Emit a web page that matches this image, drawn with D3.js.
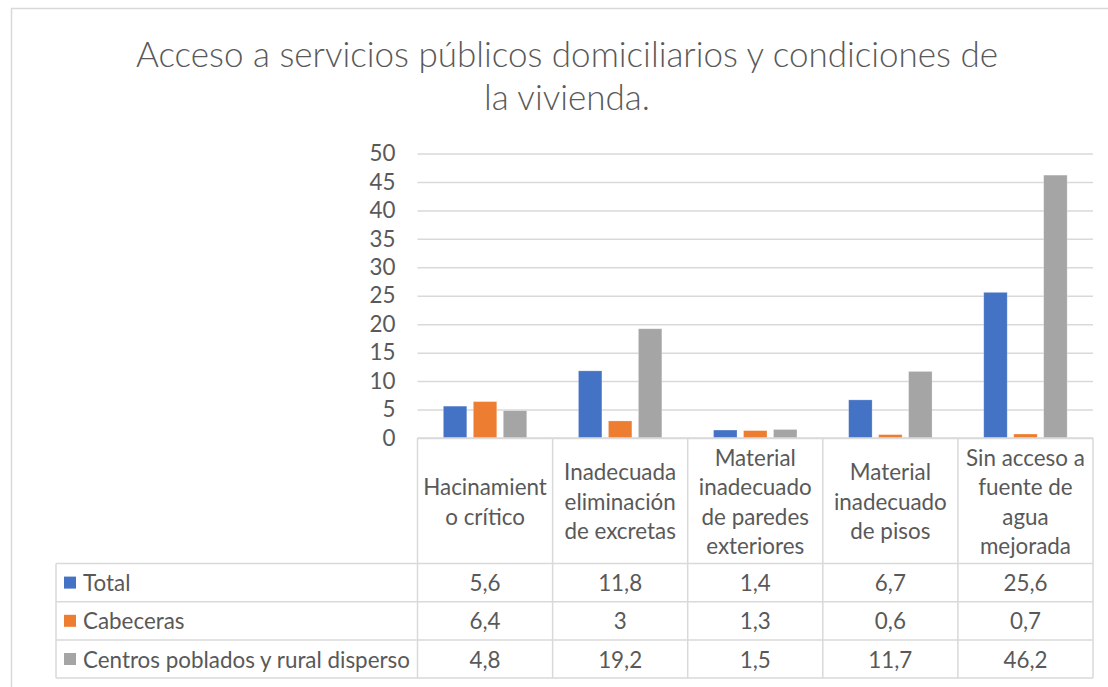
<!DOCTYPE html>
<html>
<head>
<meta charset="utf-8">
<script src="https://cdn.jsdelivr.net/npm/d3@7"></script>
<style>
  html, body { margin: 0; padding: 0; background: #fff; }
  svg { display: block; }
  text { font-family: Lato, "Open Sans", sans-serif; fill: #595959; }
</style>
</head>
<body>
<svg id="chart" width="1108" height="687"></svg>
<script>
const title = ["Acceso a servicios públicos domiciliarios y condiciones de", "la vivienda."];
const categories = ["Hacinamiento crítico", "Inadecuada eliminación de excretas", "Material inadecuado de paredes exteriores", "Material inadecuado de pisos", "Sin acceso a fuente de agua mejorada"];
const categoryLines = [
  ["Hacinamient", "o crítico"],
  ["Inadecuada", "eliminación", "de excretas"],
  ["Material", "inadecuado", "de paredes", "exteriores"],
  ["Material", "inadecuado", "de pisos"],
  ["Sin acceso a", "fuente de", "agua", "mejorada"]
];
const seriesNames = ["Total", "Cabeceras", "Centros poblados y rural disperso"];
const totalValues = [5.6, 11.8, 1.4, 6.7, 25.6];
const cabecerasValues = [6.4, 3, 1.3, 0.6, 0.7];
const centrosValues = [4.8, 19.2, 1.5, 11.7, 46.2];
const tableLabels = [
  ["5,6", "11,8", "1,4", "6,7", "25,6"],
  ["6,4", "3", "1,3", "0,6", "0,7"],
  ["4,8", "19,2", "1,5", "11,7", "46,2"]
];
const yTicks = [0, 5, 10, 15, 20, 25, 30, 35, 40, 45, 50];
const colors = ["#4472C4", "#ED7D31", "#A5A5A5"];

const seriesValues = [totalValues, cabecerasValues, centrosValues];
const data = categories.map((c, i) => ({ cat: c, values: seriesNames.map((s, j) => ({ series: s, value: seriesValues[j][i], color: colors[j] })) }));

const svg = d3.select("#chart");
const gridColor = "#D9D9D9";

// outer chart border
svg.append("path")
  .attr("d", "M11.5,700 L11.5,8.5 L1108,8.5")
  .attr("fill", "none").attr("stroke", gridColor).attr("stroke-width", 1.5);

// title
svg.append("text")
  .attr("x", 567).attr("y", 67)
  .attr("text-anchor", "middle")
  .style("font-size", "35px").style("font-weight", 300)
  .selectAll("tspan").data(title).join("tspan")
  .attr("x", 567).attr("dy", (d, i) => i === 0 ? 0 : 43)
  .text(d => d);

const plotLeft = 417.5, plotRight = 1093, plotTop = 153.5, plotBottom = 438;
const tableLeft = 56;
const fs = 22.4;

const x0 = d3.scaleBand().domain(categories).range([plotLeft, plotRight]).paddingInner(0).paddingOuter(0);
const x1 = d3.scaleBand().domain(seriesNames).range([0, x0.bandwidth()]).paddingInner(0.217).paddingOuter(0.862);
const y = d3.scaleLinear().domain([0, 50]).range([plotBottom, plotTop]);

// gridlines
const yAxis = d3.axisLeft(y).tickValues(yTicks).tickSize(-(plotRight - plotLeft)).tickPadding(22).tickFormat(d3.format("d"));
const ga = svg.append("g").attr("transform", `translate(${plotLeft},0)`).call(yAxis);
ga.select(".domain").remove();
ga.selectAll(".tick line").attr("stroke", gridColor).attr("stroke-width", 1.5);
ga.selectAll(".tick text").style("font-size", fs + "px").attr("fill", "#595959").style("font-family", "Lato, sans-serif");

// bars
const groups = svg.append("g").selectAll("g").data(data).join("g")
  .attr("transform", d => `translate(${x0(d.cat)},0)`);
groups.selectAll("rect").data(d => d.values).join("rect")
  .attr("x", d => x1(d.series))
  .attr("width", x1.bandwidth())
  .attr("y", d => y(d.value))
  .attr("height", d => y(0) - y(d.value))
  .attr("fill", d => d.color)
  .attr("stroke", "#ffffff").attr("stroke-opacity", 0.35).attr("stroke-width", 0.75);

// data table
const headerBottom = 563.5;
const rowH = 38.2;
const tableBottom = headerBottom + rowH * 3;
const tg = svg.append("g");
const line = (x1_, y1_, x2_, y2_) => tg.append("line").attr("x1", x1_).attr("y1", y1_).attr("x2", x2_).attr("y2", y2_)
  .attr("stroke", gridColor).attr("stroke-width", 1.5);

// horizontal lines
line(plotLeft, plotBottom, plotRight, plotBottom);
for (let r = 0; r <= 3; r++) line(tableLeft, headerBottom + r * rowH, plotRight, headerBottom + r * rowH);
// vertical lines
line(tableLeft, headerBottom, tableLeft, tableBottom);
categories.forEach(c => line(x0(c), plotBottom, x0(c), tableBottom));
line(plotRight, plotBottom, plotRight, tableBottom);

// header labels
const lh = 29.5;
const headerMid = (plotBottom + headerBottom) / 2;
categories.forEach((c, i) => {
  const lines = categoryLines[i];
  const cx = x0(c) + x0.bandwidth() / 2;
  const startY = headerMid - (lines.length - 1) * lh / 2;
  tg.append("text").attr("text-anchor", "middle").style("font-size", fs + "px")
    .attr("dominant-baseline", "central")
    .selectAll("tspan").data(lines).join("tspan")
    .attr("x", cx).attr("y", (d, k) => startY + k * lh)
    .text(d => d);
});

// legend rows and values
seriesNames.forEach((s, r) => {
  const cy = headerBottom + rowH * r + rowH / 2;
  tg.append("rect").attr("x", 64).attr("y", cy - 6).attr("width", 12).attr("height", 12).attr("fill", colors[r]);
  tg.append("text").attr("x", 83).attr("y", cy).attr("dominant-baseline", "central")
    .style("font-size", fs + "px").text(s);
  categories.forEach((c, i) => {
    tg.append("text").attr("x", x0(c) + x0.bandwidth() / 2).attr("y", cy)
      .attr("text-anchor", "middle").attr("dominant-baseline", "central")
      .style("font-size", fs + "px").text(tableLabels[r][i]);
  });
});
</script>
</body>
</html>
